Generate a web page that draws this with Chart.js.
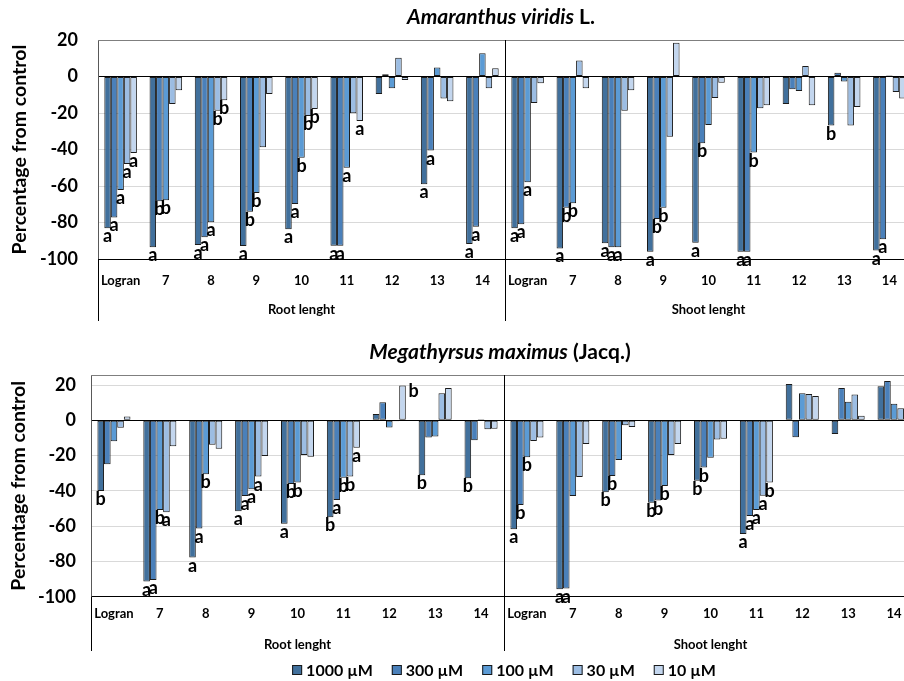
<!DOCTYPE html>
<html>
<head>
<meta charset="utf-8">
<script src="https://cdn.jsdelivr.net/npm/chart.js@4.4.1/dist/chart.umd.min.js"></script>
<style>
    html, body { margin: 0; padding: 0; background: #fff; overflow: hidden; width: 904px; height: 681px; }
    canvas { position: absolute; left: 0; }
    #amaranthus { top: 0; }
    #megathyrsus { top: 330px; }
</style>
</head>
<body>
<canvas id="amaranthus" width="930" height="330"></canvas>
<canvas id="megathyrsus" width="930" height="351"></canvas>
<script>
// categories: 9 root groups then 9 shoot groups
const categories = ['Logran', '7', '8', '9', '10', '11', '12', '13', '14'];
const groups = ['Root lenght', 'Shoot lenght'];
const doses = ['1000 µM', '300 µM', '100 µM', '30 µM', '10 µM'];
const yTicks = [20, 0, -20, -40, -60, -80, -100];

// Amaranthus viridis L.  (root x9 | shoot x9)
const ama1000 = [-83.2, -93.6, -92.3, -92.9, -83.7, -92.7, -9.6, -59.1, -91.8,  -83.2, -94.2, -91.4, -96.0, -91.1, -96.0, -15.1, -26.9, -95.4];
const ama300  = [-77.2, -68.4, -88.1, -74.1, -69.9, -92.7, 1.2, -40.6, -82.3,  -81.0, -71.9, -93.6, -78.1, -36.6, -96.0, -7.0, 2.1, -89.2];
const ama100  = [-62.2, -67.8, -79.9, -63.8, -44.5, -50.0, -6.5, 5.0, 12.7,  -58.0, -69.5, -93.6, -71.9, -26.6, -41.7, -7.9, -2.8, 0.6];
const ama30   = [-47.9, -15.1, -18.7, -38.8, -21.6, -20.2, 10.3, -12.0, -6.5,  -14.5, 8.7, -18.7, -33.0, -11.8, -17.4, 5.8, -26.9, -8.5];
const ama10   = [-41.9, -7.6, -13.0, -9.6, -17.8, -24.4, -1.9, -13.6, 4.5,  -3.7, -6.5, -7.6, 18.5, -3.4, -15.8, -15.8, -16.7, -12.1];

const amaLetters1000 = ['a','a','a','a','a','a','','a','a',  'a','a','a','a','a','a','','b','a'];
const amaLetters300  = ['a','b','a','b','a','a','','a','a',  'a','b','a','b','b','a','','','a'];
const amaLetters100  = ['a','b','a','b','b','a','','','',  'a','b','a','b','','b','','',''];
const amaLetters30   = ['a','','b','','b','','','','',  '','','','','','','','',''];
const amaLetters10   = ['a','','b','','b','a','','','',  '','','','','','','','',''];

// Megathyrsus maximus (Jacq.)  (root x9 | shoot x9)
const meg1000 = [-40.1, -91.4, -77.8, -51.6, -58.6, -55.0, 3.6, -31.2, -32.9,  -61.8, -95.8, -40.8, -46.7, -34.2, -64.4, 20.6, -7.8, 19.3];
const meg300  = [-24.9, -90.5, -61.4, -42.9, -36.1, -45.2, 10.2, -9.8, -11.3,  -48.0, -95.4, -31.6, -45.5, -26.8, -54.2, -9.6, 18.3, 22.3];
const meg100  = [-11.9, -50.8, -30.6, -39.1, -35.3, -32.5, -4.0, -9.1, 0.6,  -21.0, -42.9, -22.5, -37.2, -21.2, -50.8, 15.3, 10.5, 9.4];
const meg30   = [-4.2, -52.1, -13.8, -31.9, -19.7, -31.9, -0.5, 15.3, -5.1,  -11.7, -32.1, -2.8, -19.7, -10.8, -42.7, 14.9, 14.7, 6.8];
const meg10   = [2.1, -14.7, -16.1, -20.2, -20.6, -15.5, 19.8, 18.3, -4.8,  -9.8, -13.4, -3.8, -13.4, -10.4, -35.3, 13.8, 2.6, 7.0];

const megLetters1000 = ['b','a','a','a','a','b','','b','b',  'a','a','b','b','b','a','','',''];
const megLetters300  = ['','a','a','a','b','a','','','',  'b','a','b','b','b','a','','',''];
const megLetters100  = ['','b','b','a','b','b','','','',  'b','','','b','','a','','',''];
const megLetters30   = ['','a','','a','','b','','','',  '','','','','','a','','',''];
const megLetters10   = ['','','','','','a','b','','',  '','','','','','b','','',''];

const colors = ['#41709c', '#4a80ba', '#5b9bd5', '#9cbde3', '#c3d6ee'];
const FONT = 'Lato';

const decor = {
    id: 'decor',
    afterDatasetsDraw(chart) {
        const ctx = chart.ctx;
        ctx.save();
        ctx.font = 'bold 18px ' + FONT;
        ctx.fillStyle = '#000';
        ctx.textAlign = 'center';
        ctx.textBaseline = 'alphabetic';
        chart.data.datasets.forEach((ds, i) => {
            const meta = chart.getDatasetMeta(i);
            meta.data.forEach((bar, j) => {
                const t = ds.letters[j];
                if (!t) return;
                if (ds.data[j] < 0) ctx.fillText(t, bar.x, bar.y + 14);
                else ctx.fillText(t, bar.x + 11, bar.y + 12);
            });
        });
        ctx.restore();
    },
    afterDraw(chart, args, opts) {
        const { ctx, chartArea: a, scales } = chart;
        const x = scales.x;
        const divider = (x.getPixelForValue(8) + x.getPixelForValue(9)) / 2;
        ctx.save();
        // plot top border
        ctx.strokeStyle = '#7f7f7f';
        ctx.lineWidth = 1;
        ctx.beginPath();
        ctx.moveTo(a.left, a.top + 0.5);
        ctx.lineTo(a.right, a.top + 0.5);
        ctx.stroke();
        // group frame lines
        ctx.strokeStyle = '#000';
        ctx.beginPath();
        ctx.moveTo(Math.round(a.left) + 0.5, a.bottom);
        ctx.lineTo(Math.round(a.left) + 0.5, opts.frameBottom);
        ctx.moveTo(Math.round(divider) + 0.5, a.top);
        ctx.lineTo(Math.round(divider) + 0.5, opts.frameBottom);
        ctx.stroke();
        // group labels
        ctx.fillStyle = '#000';
        ctx.font = 'bold 13px ' + FONT;
        ctx.textAlign = 'center';
        ctx.textBaseline = 'middle';
        ctx.fillText(groups[0], (a.left + divider) / 2, opts.groupY);
        ctx.fillText(groups[1], (divider + a.right) / 2, opts.groupY);
        // title (italic species name + plain authority)
        ctx.font = 'bold italic 21px ' + FONT;
        const w1 = ctx.measureText(opts.title[0]).width;
        ctx.font = 'bold 21px ' + FONT;
        const w2 = ctx.measureText(opts.title[1]).width;
        let tx = (a.left + a.right) / 2 - 4 - (w1 + w2) / 2;
        ctx.textAlign = 'left';
        ctx.font = 'bold italic 21px ' + FONT;
        ctx.fillText(opts.title[0], tx, opts.titleY);
        ctx.font = 'bold 21px ' + FONT;
        ctx.fillText(opts.title[1], tx + w1, opts.titleY);
        // legend
        if (opts.legendY) {
            ctx.font = 'bold 16px ' + FONT;
            const gap = 19, box = 10;
            const widths = chart.data.datasets.map(ds => box + 4 + ctx.measureText(ds.label).width);
            const total = widths.reduce((s, v) => s + v, 0) + gap * (widths.length - 1);
            let lx = 504 - total / 2;
            chart.data.datasets.forEach((ds, i) => {
                ctx.fillStyle = ds.backgroundColor;
                ctx.fillRect(lx, opts.legendY - box / 2, box, box);
                ctx.strokeStyle = '#1a1a1a';
                ctx.strokeRect(lx + 0.5, opts.legendY - box / 2 + 0.5, box - 1, box - 1);
                ctx.fillStyle = '#000';
                ctx.fillText(ds.label, lx + box + 4, opts.legendY + 1);
                lx += widths[i] + gap;
            });
        }
        ctx.restore();
    }
};

function makeChart(id, series, letters, cfg) {
    new Chart(document.getElementById(id), {
        type: 'bar',
        data: {
            labels: categories.concat(categories),
            datasets: series.map((s, i) => ({
                label: doses[i],
                data: s,
                letters: letters[i],
                backgroundColor: colors[i],
                borderColor: '#1a1a1a',
                borderWidth: 1,
                borderSkipped: false,
                barPercentage: 1,
                categoryPercentage: 0.72
            }))
        },
        options: {
            responsive: false,
            animation: false,
            devicePixelRatio: 1,
            layout: { padding: { top: cfg.padTop, right: cfg.padRight, left: 0, bottom: 0 } },
            plugins: {
                legend: { display: false },
                tooltip: { enabled: false },
                decor: cfg.decor
            },
            scales: {
                x: {
                    grid: { display: false },
                    border: { color: '#000' },
                    ticks: {
                        color: '#000', autoSkip: false, maxRotation: 0, padding: cfg.xPad,
                        font: { family: FONT, size: 13, weight: 'bold' }
                    },
                    afterFit: s => { s.height = cfg.xHeight; }
                },
                y: {
                    min: -100,
                    max: cfg.yMax,
                    afterBuildTicks: s => { s.ticks = yTicks.map(v => ({ value: v })); },
                    grid: {
                        drawTicks: false,
                        color: c => (c.tick && c.tick.value === 0) ? '#000' : '#d9d9d9'
                    },
                    border: { color: '#595959' },
                    ticks: {
                        color: '#000', padding: cfg.yPad,
                        font: { family: FONT, size: 18, weight: 'bold' }
                    },
                    title: {
                        display: true,
                        text: 'Percentage from control',
                        color: '#000',
                        padding: { top: cfg.titlePad, bottom: 0 },
                        font: { family: FONT, size: 19.5, weight: 'bold' }
                    },
                    afterFit: s => { s.width = cfg.yWidth; }
                }
            }
        },
        plugins: [decor]
    });
}

makeChart('amaranthus',
    [ama1000, ama300, ama100, ama30, ama10],
    [amaLetters1000, amaLetters300, amaLetters100, amaLetters30, amaLetters10],
    {
        padTop: 40, padRight: 18, xHeight: 71, xPad: 6, yMax: 20, yWidth: 98, yPad: 20, titlePad: 8,
        decor: { title: ['Amaranthus viridis', ' L.'], titleY: 17, groupY: 310, frameBottom: 321 }
    });

makeChart('megathyrsus',
    [meg1000, meg300, meg100, meg30, meg10],
    [megLetters1000, megLetters300, megLetters100, megLetters30, megLetters10],
    {
        padTop: 45, padRight: 13, xHeight: 84.3, xPad: 1, yMax: 25.7, yWidth: 91, yPad: 15, titlePad: 7,
        decor: { title: ['Megathyrsus maximus', ' (Jacq.)'], titleY: 22, groupY: 315, frameBottom: 321, legendY: 340 }
    });
</script>
</body>
</html>
